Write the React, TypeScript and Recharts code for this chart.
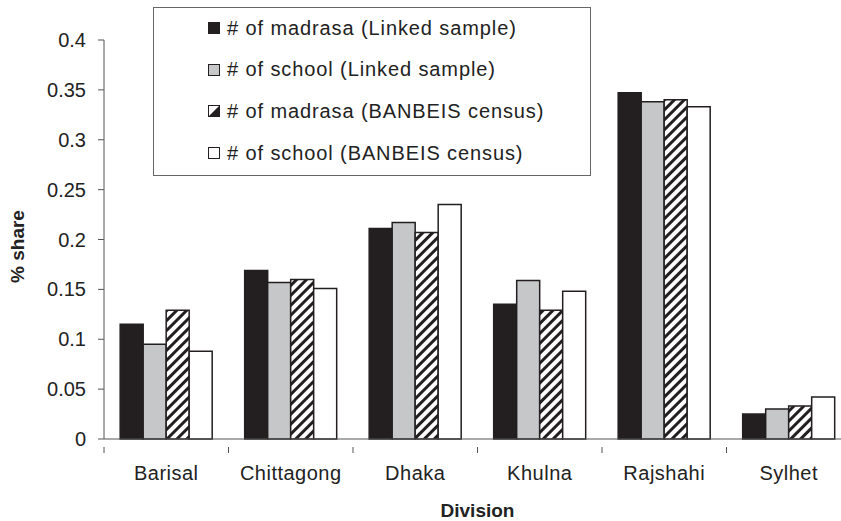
import { BarChart, Bar, XAxis, YAxis, Legend, Label } from "recharts";

const divisions = ["Barisal", "Chittagong", "Dhaka", "Khulna", "Rajshahi", "Sylhet"];
const madrasaLinked = [0.115, 0.169, 0.211, 0.135, 0.347, 0.025];
const schoolLinked = [0.095, 0.157, 0.217, 0.159, 0.338, 0.03];
const madrasaCensus = [0.129, 0.16, 0.207, 0.129, 0.34, 0.033];
const schoolCensus = [0.088, 0.151, 0.235, 0.148, 0.333, 0.042];
const yTicks = [0, 0.05, 0.1, 0.15, 0.2, 0.25, 0.3, 0.35, 0.4];

const seriesNames = [
  "# of madrasa (Linked sample)",
  "# of school (Linked sample)",
  "# of madrasa (BANBEIS census)",
  "# of school (BANBEIS census)",
];

const data = divisions.map((d, i) => ({
  division: d,
  ml: madrasaLinked[i],
  sl: schoolLinked[i],
  mc: madrasaCensus[i],
  sc: schoolCensus[i],
}));

const FONT = "'Liberation Sans', Arial, sans-serif";
const CHART_W = 851;
const CHART_H = 521;
const LEFT = 104;
const BAND = (CHART_W - LEFT) / divisions.length;

function XTick(props: any) {
  const { x, y, payload } = props;
  const bx = x - BAND / 2;
  return (
    <g>
      <line x1={bx} y1={y} x2={bx} y2={y + 6} stroke="#555" strokeWidth={1} />
      <text x={x} y={y + 33} textAnchor="middle" fontSize={20} letterSpacing={0.5} fill="#222" fontFamily={FONT}>
        {payload.value}
      </text>
    </g>
  );
}

function YTitle(props: any) {
  const { viewBox } = props;
  const cx = 24;
  const cy = viewBox.y + viewBox.height / 2 + 7;
  return (
    <text
      x={cx}
      y={cy}
      transform={`rotate(-90, ${cx}, ${cy})`}
      textAnchor="middle"
      fontFamily={FONT}
      fontSize={19}
      fontWeight="bold"
      fill="#222"
    >
      % share
    </text>
  );
}

function LegendBox() {
  const icons = [
    <rect x={0.5} y={0.5} width={11} height={11} fill="#231f20" stroke="#231f20" />,
    <rect x={0.5} y={0.5} width={11} height={11} fill="#c6c7c9" stroke="#231f20" />,
    <g>
      <rect x={0.5} y={0.5} width={11} height={11} fill="#fff" stroke="#231f20" />
      <polygon points="11.5,0.5 11.5,11.5 0.5,11.5" fill="#231f20" />
    </g>,
    <rect x={0.5} y={0.5} width={11} height={11} fill="#fff" stroke="#231f20" />,
  ];
  return (
    <div
      style={{
        position: "absolute",
        left: 153,
        top: 7,
        width: 438,
        height: 169,
        border: "1px solid #666",
        background: "#fff",
        boxSizing: "border-box",
      }}
    >
      {seriesNames.map((n, i) => (
        <div
          key={n}
          style={{
            position: "absolute",
            left: 54,
            top: 8 + i * 41.7,
            height: 24,
            display: "flex",
            alignItems: "center",
            whiteSpace: "nowrap",
            fontFamily: FONT,
            fontSize: 20,
            letterSpacing: 0.9,
            color: "#222",
          }}
        >
          <svg width={12} height={12} style={{ marginRight: 7 }}>
            {icons[i]}
          </svg>
          {n}
        </div>
      ))}
    </div>
  );
}

export default function App() {
  return (
    <div
      style={{
        position: "absolute",
        left: 0,
        top: 0,
        width: 841,
        height: 521,
        overflow: "hidden",
        background: "#fff",
      }}
    >
      <BarChart
        width={CHART_W}
        height={CHART_H}
        data={data}
        margin={{ top: 40, right: 0, bottom: 0, left: 44 }}
        barCategoryGap="13%"
        barGap={0}
      >
        <defs>
          <pattern id="hatch" patternUnits="userSpaceOnUse" width={7} height={7} patternTransform="rotate(45)">
            <rect width={7} height={7} fill="#fff" />
            <rect width={3} height={7} fill="#231f20" />
          </pattern>
        </defs>
        <XAxis
          dataKey="division"
          height={82}
          stroke="#555"
          tickLine={false}
          tick={<XTick />}
          interval={0}
        >
          <Label
            value="Division"
            position="insideBottom"
            offset={4}
            style={{ fontFamily: FONT, fontSize: 19, fontWeight: "bold", fill: "#222" }}
          />
        </XAxis>
        <YAxis
          width={60}
          domain={[0, 0.4]}
          ticks={yTicks}
          interval={0}
          stroke="#555"
          tickSize={6}
          tickMargin={12}
          tick={{ fontSize: 20, fill: "#222", fontFamily: FONT }}
        >
          <Label content={<YTitle />} />
        </YAxis>
        <Legend content={() => null} />
        <Bar dataKey="ml" name={seriesNames[0]} fill="#231f20" stroke="#231f20" strokeWidth={1.5} isAnimationActive={false} />
        <Bar dataKey="sl" name={seriesNames[1]} fill="#c6c7c9" stroke="#231f20" strokeWidth={1.5} isAnimationActive={false} />
        <Bar dataKey="mc" name={seriesNames[2]} fill="url(#hatch)" stroke="#231f20" strokeWidth={1.5} isAnimationActive={false} />
        <Bar dataKey="sc" name={seriesNames[3]} fill="#fff" stroke="#231f20" strokeWidth={1.5} isAnimationActive={false} />
      </BarChart>
      <LegendBox />
    </div>
  );
}
